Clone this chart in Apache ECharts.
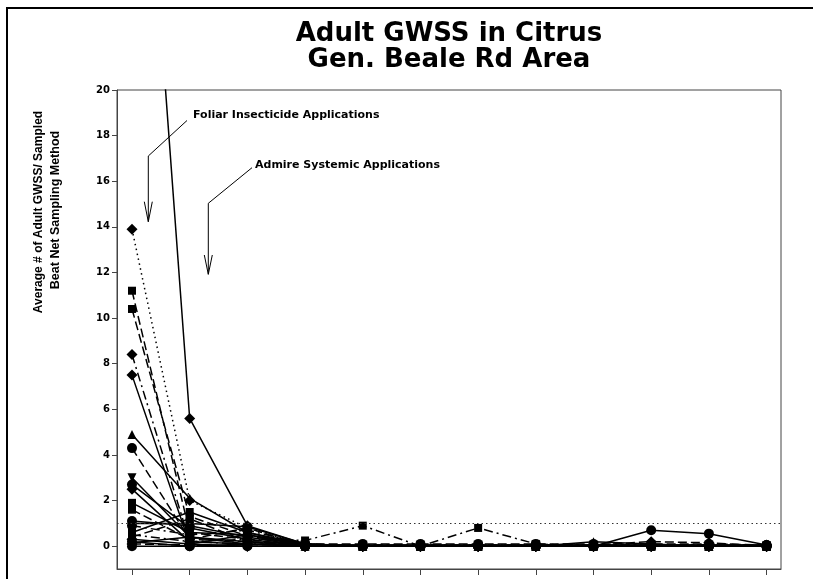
<!DOCTYPE html>
<html>
<head>
<meta charset="utf-8">
<script src="https://cdn.jsdelivr.net/npm/echarts@6/dist/echarts.min.js"></script>
<style>
  html, body { margin: 0; padding: 0; background: #fff; }
  #chart { width: 813px; height: 579px; }
</style>
</head>
<body>
<div id="chart"></div>
<script>
// sampling dates (no labels shown on the x axis)
const samplings = [0, 1, 2, 3, 4, 5, 6, 7, 8, 9, 10, 11];
const yTicks = [0, 2, 4, 6, 8, 10, 12, 14, 16, 18, 20];

// average adults per sample, one array per grove
const grove1  = [40, 5.6, 0.9, 0.1, 0, 0, 0, 0, 0, 0, 0, 0];
const grove2  = [13.9, 2.0, 0.8, 0.05, 0, 0, 0, 0, 0, 0, 0, 0];
const grove3  = [11.2, 0.6, 0.3, 0, 0, 0, 0, 0, 0, 0, 0, 0];
const grove4  = [10.4, 1.3, 0.45, 0.05, 0.05, 0.05, 0.05, 0.05, 0.05, 0.05, 0.05, 0.05];
const grove5  = [8.4, 0.2, 0.1, 0.05, 0.05, 0.05, 0.05, 0.05, 0.05, 0.05, 0.05, 0];
const grove6  = [7.5, 0.1, 0, 0, 0, 0, 0, 0, 0, 0, 0, 0];
const grove7  = [4.9, 2.1, 0.6, 0.1, 0, 0, 0, 0, 0, 0, 0, 0];
const grove8  = [4.3, 0.3, 0.2, 0.1, 0.1, 0.1, 0.1, 0.1, 0.1, 0.1, 0.1, 0.05];
const grove9  = [3.0, 0.4, 0.2, 0, 0, 0, 0, 0, 0, 0, 0, 0];
const grove10 = [2.7, 0.8, 0.3, 0, 0, 0, 0, 0, 0, 0, 0, 0];
const grove11 = [2.5, 0.2, 0.1, 0.05, 0.05, 0.05, 0.05, 0.05, 0.05, 0.05, 0.05, 0.05];
const grove12 = [1.9, 0.6, 0.5, 0.1, 0, 0, 0, 0, 0, 0, 0, 0];
const grove13 = [1.6, 0.3, 0.8, 0, 0, 0, 0, 0, 0, 0, 0, 0];
const grove14 = [1.1, 0.9, 0.4, 0, 0, 0, 0, 0, 0, 0, 0, 0];
const grove15 = [0.9, 0.5, 0.7, 0.1, 0, 0, 0, 0, 0, 0, 0, 0];
const grove16 = [0.6, 1.5, 0.6, 0, 0, 0, 0, 0, 0, 0, 0, 0];
const grove17 = [0.4, 1.2, 0.2, 0, 0, 0, 0, 0, 0, 0, 0, 0];
const grove18 = [0.3, 0.1, 0.5, 0, 0, 0, 0, 0, 0, 0, 0, 0];
const grove19 = [0.15, 0.4, 0.1, 0, 0, 0, 0, 0, 0.2, 0.1, 0, 0];
const grove20 = [0.5, 0.2, 0.3, 0.25, 0.9, 0, 0.8, 0.1, 0, 0, 0, 0];
const grove21 = [0.1, 0.05, 0, 0, 0, 0, 0, 0, 0.05, 0.2, 0.15, 0];
const grove22 = [1.0, 1.0, 0.85, 0.1, 0, 0, 0, 0, 0, 0, 0, 0];
const grove23 = [0.2, 0, 0.1, 0, 0, 0, 0, 0, 0, 0.7, 0.55, 0.05];
const grove24 = [0, 0, 0, 0, 0, 0, 0, 0, 0, 0, 0, 0];

const threshold = 1;

const DIAMOND = 'diamond', SQUARE = 'rect', TRI = 'triangle', CIRCLE = 'circle';
const INVTRI = 'path://M0,0 L10,0 L5,10 Z';
const SOLID = 'solid', DOT = [1.5, 3.5], DASH = [9, 4], DASHDOT = [9, 4, 2, 4];

// [data, marker, line type]
const groves = [
  [grove1, DIAMOND, SOLID], [grove2, DIAMOND, DOT], [grove3, SQUARE, DASH],
  [grove4, SQUARE, DASH], [grove5, DIAMOND, DASHDOT], [grove6, DIAMOND, SOLID],
  [grove7, TRI, SOLID], [grove8, CIRCLE, DASH], [grove9, INVTRI, SOLID],
  [grove10, CIRCLE, SOLID], [grove11, DIAMOND, SOLID], [grove12, SQUARE, SOLID],
  [grove13, SQUARE, DASH], [grove14, CIRCLE, SOLID], [grove15, CIRCLE, DASHDOT],
  [grove16, SQUARE, SOLID], [grove17, SQUARE, DASH], [grove18, DIAMOND, SOLID],
  [grove19, TRI, SOLID], [grove20, SQUARE, DASHDOT], [grove21, DIAMOND, DASH],
  [grove22, SQUARE, SOLID], [grove23, CIRCLE, SOLID], [grove24, CIRCLE, SOLID]
];

function markerSize(sym) {
  if (sym === DIAMOND) return 11;
  if (sym === SQUARE) return 8;
  if (sym === CIRCLE) return 10;
  return 9;
}

const series = groves.map(function (g) {
  return {
    type: 'line',
    data: g[0].map(function (v, k) { return [samplings[k], v]; }),
    symbol: g[1],
    symbolSize: markerSize(g[1]),
    showAllSymbol: true,
    clip: true,
    itemStyle: { color: '#000' },
    lineStyle: { color: '#000', width: 1.5, type: g[2] },
    emphasis: { disabled: true },
    z: 3
  };
});

// dotted reference line at 1
series.push({
  type: 'line',
  data: [],
  markLine: {
    silent: true,
    symbol: 'none',
    label: { show: false },
    lineStyle: { color: '#333', width: 1, type: [1.5, 3] },
    data: [{ yAxis: threshold }]
  }
});

const bold = { fontFamily: 'Liberation Sans, Arial, sans-serif', fontWeight: 'bold', fill: '#000' };
const wide = { fontFamily: 'DejaVu Sans, sans-serif', fontWeight: 'bold', fill: '#000' };

let myChart = echarts.init(document.getElementById('chart'));
myChart.setOption({
  animation: false,
  backgroundColor: '#fff',
  grid: { left: 117, right: 32, top: 90, bottom: 10, show: true, borderColor: '#444', borderWidth: 1 },
  xAxis: {
    type: 'value',
    min: -0.26,
    max: 11.25,
    axisLine: { show: true, onZero: false, lineStyle: { color: '#444', width: 1 } },
    axisTick: { show: true, customValues: samplings, length: 6, lineStyle: { color: '#444' } },
    axisLabel: { show: false },
    splitLine: { show: false }
  },
  yAxis: {
    type: 'value',
    min: -1,
    max: 20,
    axisLine: { show: true, onZero: false, lineStyle: { color: '#444', width: 1 } },
    axisTick: { show: true, customValues: yTicks, length: 5, lineStyle: { color: '#444' } },
    axisLabel: {
      customValues: yTicks, margin: 7, color: '#000', fontSize: 10, fontWeight: 'bold',
      fontFamily: 'DejaVu Sans, sans-serif'
    },
    splitLine: { show: false }
  },
  series: series,
  graphic: [
    // outer frame
    { type: 'rect', shape: { x: 7, y: 8, width: 830, height: 600 },
      style: { fill: 'none', stroke: '#000', lineWidth: 2 }, z: 0 },
    // title
    { type: 'text', x: 449, y: 34, style: Object.assign({}, wide, {
        text: 'Adult GWSS in Citrus', fontSize: 26, align: 'center', verticalAlign: 'middle' }) },
    { type: 'text', x: 449, y: 60, style: Object.assign({}, wide, {
        text: 'Gen. Beale Rd Area', fontSize: 26, align: 'center', verticalAlign: 'middle' }) },
    // y axis title
    { type: 'text', x: 39, y: 212, rotation: Math.PI / 2, style: Object.assign({}, bold, {
        text: 'Average # of Adult GWSS/ Sampled', fontSize: 12, align: 'center', verticalAlign: 'middle' }) },
    { type: 'text', x: 56, y: 210, rotation: Math.PI / 2, style: Object.assign({}, bold, {
        text: 'Beat Net Sampling Method', fontSize: 12.5, align: 'center', verticalAlign: 'middle' }) },
    // annotations
    { type: 'text', x: 193, y: 115, style: Object.assign({}, wide, {
        text: 'Foliar Insecticide Applications', fontSize: 11, align: 'left', verticalAlign: 'middle' }) },
    { type: 'polyline', shape: { points: [[187, 120.5], [148.3, 156], [148.3, 221.7]] },
      style: { stroke: '#000', lineWidth: 1, fill: 'none' } },
    { type: 'polyline', shape: { points: [[144.3, 201.7], [148.3, 221.7], [152.3, 201.7]] },
      style: { stroke: '#000', lineWidth: 1, fill: 'none' } },
    { type: 'text', x: 255, y: 165, style: Object.assign({}, wide, {
        text: 'Admire Systemic Applications', fontSize: 11, align: 'left', verticalAlign: 'middle' }) },
    { type: 'polyline', shape: { points: [[252, 167.7], [208.3, 203.3], [208.3, 274.3]] },
      style: { stroke: '#000', lineWidth: 1, fill: 'none' } },
    { type: 'polyline', shape: { points: [[204.3, 255], [208.3, 274.3], [212.3, 255]] },
      style: { stroke: '#000', lineWidth: 1, fill: 'none' } }
  ]
});
</script>
</body>
</html>
